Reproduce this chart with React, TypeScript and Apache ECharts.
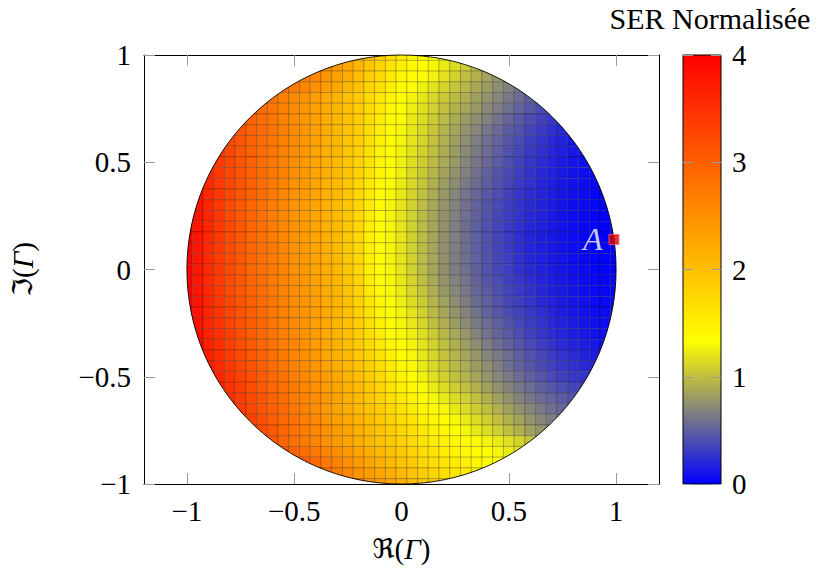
import React, { useEffect, useRef } from "react";
import * as echarts from "echarts";

// Cell centres of the sampling grid (Re and Im of Gamma)
const xCenters = [-1, -0.95, -0.9, -0.85, -0.8, -0.75, -0.7, -0.65, -0.6, -0.55, -0.5, -0.45, -0.4, -0.35, -0.3, -0.25, -0.2, -0.15, -0.1, -0.05, 0, 0.05, 0.1, 0.15, 0.2, 0.25, 0.3, 0.35, 0.4, 0.45, 0.5, 0.55, 0.6, 0.65, 0.7, 0.75, 0.8, 0.85, 0.9, 0.95, 1];
const yCenters = [1, 0.95, 0.9, 0.85, 0.8, 0.75, 0.7, 0.65, 0.6, 0.55, 0.5, 0.45, 0.4, 0.35, 0.3, 0.25, 0.2, 0.15, 0.1, 0.05, 0, -0.05, -0.1, -0.15, -0.2, -0.25, -0.3, -0.35, -0.4, -0.45, -0.5, -0.55, -0.6, -0.65, -0.7, -0.75, -0.8, -0.85, -0.9, -0.95, -1];
const cellSize = 0.05;

// Normalised SER x100, one row per yCenters entry, only the cells inside the unit disc
// (each row is centred on x = 0)
const serRows: number[][] = [
  [218, 200, 183, 167, 155, 144, 138, 133, 128],
  [265, 252, 240, 226, 210, 193, 177, 162, 150, 140, 135, 130, 123, 115, 107, 99, 92],
  [282, 270, 258, 245, 232, 218, 202, 186, 170, 155, 143, 136, 133, 126, 118, 109, 100, 92, 85, 79, 73],
  [285, 273, 261, 249, 237, 223, 210, 195, 180, 165, 150, 139, 132, 126, 119, 111, 103, 95, 88, 81, 74, 67, 60],
  [292, 280, 268, 256, 245, 234, 222, 211, 199, 187, 173, 158, 145, 136, 128, 120, 113, 105, 98, 91, 84, 77, 70, 63, 56, 49, 43],
  [300, 289, 278, 266, 254, 243, 232, 221, 210, 198, 186, 171, 155, 142, 133, 125, 117, 109, 101, 93, 86, 79, 72, 65, 58, 51, 45, 39, 34],
  [310, 299, 288, 277, 265, 254, 242, 231, 220, 209, 197, 185, 170, 152, 139, 131, 123, 115, 106, 97, 89, 81, 74, 67, 60, 53, 46, 40, 34, 29, 25],
  [322, 311, 300, 289, 278, 266, 255, 243, 232, 220, 209, 197, 185, 169, 150, 137, 129, 121, 113, 104, 94, 86, 77, 70, 62, 55, 48, 42, 36, 30, 25, 21, 17],
  [325, 312, 300, 289, 278, 266, 254, 242, 231, 219, 208, 196, 183, 167, 148, 136, 128, 120, 111, 102, 92, 83, 74, 66, 58, 51, 44, 38, 32, 26, 21, 17, 13],
  [340, 326, 313, 300, 288, 277, 265, 253, 241, 230, 218, 207, 195, 181, 165, 146, 135, 127, 118, 109, 100, 90, 81, 72, 64, 56, 49, 42, 36, 30, 25, 20, 16, 12, 9],
  [355, 340, 326, 312, 299, 287, 276, 264, 252, 240, 229, 217, 206, 194, 180, 163, 144, 134, 126, 117, 107, 98, 88, 79, 70, 62, 54, 47, 40, 34, 28, 23, 18, 14, 11, 8, 6],
  [357, 341, 326, 312, 299, 286, 275, 263, 251, 240, 228, 217, 205, 193, 178, 161, 142, 133, 125, 115, 105, 95, 85, 76, 67, 59, 51, 44, 38, 32, 26, 21, 17, 13, 10, 7, 5],
  [375, 358, 341, 326, 311, 298, 285, 274, 262, 250, 239, 228, 216, 205, 192, 177, 159, 140, 131, 123, 113, 103, 92, 82, 73, 64, 56, 49, 42, 36, 30, 25, 20, 16, 12, 9, 6, 4, 3],
  [378, 359, 341, 325, 310, 297, 284, 272, 260, 249, 238, 227, 216, 205, 192, 176, 157, 138, 129, 121, 111, 100, 89, 79, 70, 61, 53, 46, 40, 34, 28, 23, 19, 15, 11, 8, 5, 3, 2],
  [380, 360, 340, 323, 308, 294, 282, 270, 258, 247, 237, 227, 216, 205, 192, 175, 155, 136, 128, 120, 110, 98, 87, 77, 68, 59, 51, 44, 38, 32, 27, 22, 18, 14, 10, 7, 5, 3, 1],
  [382, 361, 341, 323, 308, 294, 282, 270, 258, 247, 237, 227, 216, 205, 192, 174, 153, 136, 127, 120, 109, 97, 86, 76, 67, 58, 50, 43, 37, 31, 26, 21, 17, 13, 9, 6, 4, 2, 1],
  [400, 380, 360, 341, 324, 308, 295, 283, 271, 259, 248, 238, 228, 217, 205, 192, 173, 151, 136, 127, 120, 109, 97, 86, 75, 66, 57, 49, 42, 36, 30, 25, 20, 16, 12, 9, 6, 3, 2, 1, 0],
  [400, 378, 358, 340, 323, 308, 295, 283, 271, 259, 248, 238, 228, 217, 205, 191, 173, 150, 136, 127, 120, 109, 97, 86, 75, 66, 57, 49, 42, 36, 30, 24, 19, 15, 12, 9, 6, 3, 1, 0, 0],
  [400, 377, 357, 339, 323, 308, 295, 283, 272, 260, 249, 239, 229, 218, 206, 191, 173, 149, 136, 127, 120, 109, 97, 86, 75, 66, 57, 49, 42, 36, 30, 24, 19, 15, 12, 9, 6, 3, 1, 0, 0],
  [400, 376, 356, 338, 322, 308, 295, 283, 272, 260, 250, 240, 230, 219, 207, 192, 173, 149, 136, 127, 120, 109, 97, 86, 75, 66, 58, 50, 43, 37, 31, 25, 20, 16, 13, 10, 7, 4, 2, 1, 0],
  [400, 375, 355, 338, 322, 308, 295, 283, 272, 261, 250, 240, 230, 220, 208, 193, 174, 150, 137, 128, 120, 109, 97, 86, 75, 66, 58, 50, 43, 37, 31, 26, 21, 17, 14, 11, 8, 5, 3, 2, 1],
  [400, 376, 356, 339, 323, 309, 296, 284, 273, 262, 251, 241, 231, 221, 209, 195, 176, 153, 138, 129, 121, 111, 99, 88, 77, 68, 60, 52, 45, 39, 33, 28, 23, 19, 15, 12, 9, 6, 4, 3, 2],
  [400, 377, 357, 340, 324, 310, 297, 285, 274, 263, 252, 242, 232, 222, 210, 196, 178, 156, 140, 130, 123, 113, 102, 91, 80, 71, 62, 54, 47, 41, 35, 30, 25, 20, 16, 13, 10, 7, 5, 4, 3],
  [400, 378, 359, 342, 326, 312, 299, 287, 276, 265, 254, 244, 234, 223, 212, 198, 180, 159, 143, 132, 125, 116, 105, 94, 84, 74, 65, 57, 50, 43, 37, 32, 27, 22, 18, 14, 11, 8, 6, 5, 4],
  [400, 380, 361, 344, 328, 314, 301, 289, 277, 266, 255, 245, 234, 223, 211, 198, 182, 163, 146, 134, 127, 119, 108, 97, 87, 77, 68, 60, 52, 45, 39, 34, 29, 24, 19, 15, 12, 9, 7, 6, 5],
  [382, 363, 346, 330, 316, 303, 290, 278, 267, 256, 245, 234, 223, 211, 198, 183, 166, 149, 136, 128, 122, 112, 100, 91, 81, 73, 64, 56, 49, 43, 37, 31, 26, 21, 17, 14, 11, 9, 7],
  [385, 365, 348, 333, 318, 305, 292, 280, 268, 257, 246, 235, 223, 211, 198, 184, 168, 152, 138, 130, 125, 116, 106, 96, 87, 78, 69, 60, 52, 46, 40, 34, 28, 23, 19, 15, 12, 10, 8],
  [387, 367, 350, 335, 320, 307, 294, 282, 270, 259, 248, 237, 225, 213, 200, 187, 172, 157, 143, 133, 127, 118, 109, 100, 91, 82, 74, 65, 57, 51, 44, 38, 32, 27, 22, 18, 15, 12, 10],
  [390, 370, 353, 338, 323, 310, 297, 285, 273, 262, 251, 240, 228, 216, 204, 191, 177, 162, 148, 136, 129, 120, 111, 102, 94, 86, 78, 70, 63, 56, 49, 43, 37, 31, 26, 22, 18, 15, 13],
  [374, 357, 342, 327, 314, 301, 289, 277, 266, 255, 244, 232, 220, 208, 196, 182, 167, 153, 140, 131, 122, 113, 105, 97, 90, 82, 74, 66, 58, 51, 45, 39, 34, 29, 25, 21, 18],
  [378, 361, 346, 331, 318, 305, 292, 280, 269, 258, 247, 236, 224, 212, 200, 186, 172, 158, 145, 135, 126, 117, 109, 101, 94, 86, 78, 70, 63, 56, 50, 44, 38, 33, 29, 26, 23],
  [365, 349, 334, 321, 308, 295, 283, 272, 261, 250, 239, 227, 215, 203, 190, 177, 163, 150, 140, 131, 123, 115, 107, 100, 92, 84, 76, 69, 62, 56, 50, 45, 40, 36, 33],
  [352, 337, 324, 311, 298, 286, 275, 264, 253, 242, 230, 218, 206, 194, 181, 168, 156, 146, 137, 129, 122, 115, 108, 100, 92, 84, 76, 68, 62, 56, 51, 47, 43],
  [356, 341, 327, 314, 301, 289, 277, 265, 253, 241, 229, 218, 207, 196, 185, 174, 163, 152, 143, 136, 129, 122, 115, 107, 100, 92, 84, 76, 70, 64, 58, 53, 49],
  [346, 332, 318, 305, 293, 282, 270, 258, 246, 235, 224, 213, 202, 191, 180, 169, 160, 151, 143, 136, 130, 123, 116, 108, 101, 93, 85, 77, 71, 65, 60],
  [335, 320, 307, 294, 282, 271, 260, 249, 238, 227, 217, 206, 196, 185, 175, 165, 156, 148, 141, 134, 128, 122, 115, 108, 100, 92, 84, 77, 70],
  [325, 310, 296, 283, 271, 260, 249, 238, 227, 217, 207, 198, 189, 180, 171, 162, 154, 147, 141, 136, 132, 128, 123, 117, 110, 102, 94],
  [312, 298, 285, 273, 261, 250, 239, 228, 218, 208, 198, 188, 178, 169, 160, 152, 146, 140, 136, 132, 128, 123, 117],
  [318, 304, 290, 277, 264, 252, 240, 228, 217, 207, 197, 187, 177, 168, 160, 153, 147, 142, 137, 133, 129],
  [295, 283, 271, 259, 248, 237, 226, 216, 206, 196, 186, 176, 168, 160, 153, 147, 142],
  [262, 250, 238, 227, 216, 206, 195, 185, 176],
];

const xTicks = [-1, -0.5, 0, 0.5, 1];
const colorbarTicks = [0, 1, 2, 3, 4];
const serRange = [0, 4];
const colormap = ["#0000ff", "#808080", "#ffff00", "#ffbf00", "#ff8000", "#ff4000", "#ff0000"];
const pointA = [0.99, 0.14];
const unitCircle = [0, 0, 1];

const FONT = "Liberation Serif, Times New Roman, serif";
const fmt = (v: number) => (v < 0 ? "\u2212" + String(Math.abs(v)) : String(v));

function buildCells() {
  const out: number[][] = [];
  serRows.forEach((row, j) => {
    const start = Math.round((xCenters.length - row.length) / 2);
    row.forEach((v, k) => {
      out.push([xCenters[start + k], yCenters[j], v / 100]);
    });
  });
  return out;
}

const tickStyle = { color: "#9a9a9a", width: 1 };
const frameLine = { show: true, onZero: false, lineStyle: { color: "#000", width: 1 } };

function nameRich(size: number) {
  return {
    r: { fontFamily: "DejaVu Serif, DejaVu Sans, serif", fontSize: size - 2, color: "#000" },
    p: { fontFamily: FONT, fontSize: size, color: "#000" },
    g: { fontFamily: FONT, fontSize: size, fontStyle: "italic", color: "#000" },
  };
}

function buildOption(): any {
  const half = cellSize / 2;
  return {
    animation: false,
    backgroundColor: "#ffffff",
    textStyle: { fontFamily: FONT },
    grid: [
      { left: 142, top: 55, width: 517, height: 429 },
      { left: 683, top: 55, width: 38, height: 429 },
    ],
    xAxis: [
      {
        gridIndex: 0, type: "value", min: -1.2, max: 1.2, position: "bottom",
        axisLine: frameLine,
        axisTick: { show: true, inside: true, length: 11, customValues: xTicks, lineStyle: tickStyle },
        axisLabel: { show: true, customValues: xTicks, formatter: fmt, margin: 12, fontSize: 29, fontFamily: FONT, color: "#000" },
        splitLine: { show: false },
        name: "{r|\u211C}{p|(}{g|\u0393}{p|)}",
        nameLocation: "middle", nameGap: 50,
        nameTextStyle: { rich: nameRich(29) },
      },
      {
        gridIndex: 0, type: "value", min: -1.2, max: 1.2, position: "top",
        axisLine: frameLine,
        axisTick: { show: true, inside: true, length: 11, customValues: xTicks, lineStyle: tickStyle },
        axisLabel: { show: false },
        splitLine: { show: false },
      },
      { gridIndex: 1, type: "value", min: 0, max: 1, show: false },
    ],
    yAxis: [
      {
        gridIndex: 0, type: "value", min: -1, max: 1, interval: 0.5, position: "left",
        axisLine: frameLine,
        axisTick: { show: true, inside: true, length: 11, lineStyle: tickStyle },
        axisLabel: { show: true, formatter: fmt, margin: 13, fontSize: 29, fontFamily: FONT, color: "#000" },
        splitLine: { show: false },
        name: "{r|\u2111}{p|(}{g|\u0393}{p|)}",
        nameLocation: "middle", nameGap: 107, nameRotate: 90,
        nameTextStyle: { rich: nameRich(29) },
      },
      {
        gridIndex: 0, type: "value", min: -1, max: 1, interval: 0.5, position: "right",
        axisLine: frameLine,
        axisTick: { show: true, inside: true, length: 11, lineStyle: tickStyle },
        axisLabel: { show: false },
        splitLine: { show: false },
      },
      {
        gridIndex: 1, type: "value", min: serRange[0], max: serRange[1], interval: 1, position: "right", z: 10,
        axisLine: { show: false, onZero: false },
        axisTick: { show: true, inside: true, length: 10, customValues: colorbarTicks, lineStyle: tickStyle },
        axisLabel: { show: true, customValues: colorbarTicks, margin: 11, fontSize: 29, fontFamily: FONT, color: "#000" },
        splitLine: { show: false },
      },
      {
        gridIndex: 1, type: "value", min: serRange[0], max: serRange[1], interval: 1, position: "left", z: 10,
        axisLine: { show: false, onZero: false },
        axisTick: { show: true, inside: true, length: 10, customValues: colorbarTicks, lineStyle: tickStyle },
        axisLabel: { show: false },
        splitLine: { show: false },
      },
    ],
    visualMap: {
      type: "continuous", show: false, min: serRange[0], max: serRange[1], dimension: 2, seriesIndex: 0,
      inRange: { color: colormap },
    },
    graphic: [
      {
        type: "text", x: 710, y: 3, z: 10,
        style: { text: "SER Normalisée", align: "center", verticalAlign: "top", fontSize: 30, fontFamily: FONT, fill: "#000" },
      },
    ],
    series: [
      {
        type: "custom", xAxisIndex: 0, yAxisIndex: 0, silent: true, z: 2,
        data: buildCells(),
        encode: { x: 0, y: 1 },
        renderItem: (_params: any, api: any) => {
          const x = api.value(0), y = api.value(1);
          const tl = api.coord([x - half, y + half]);
          const br = api.coord([x + half, y - half]);
          const el: any = {
            type: "rect",
            shape: { x: tl[0], y: tl[1], width: br[0] - tl[0], height: br[1] - tl[1] },
            style: { fill: api.visual("color"), stroke: "rgba(0,0,0,0.22)", lineWidth: 1 },
          };
          if ((Math.abs(x) + half) ** 2 + (Math.abs(y) + half) ** 2 > 1) {
            const c = api.coord([0, 0]);
            const s = api.size([1, 1]);
            el.clipPath = { type: "ellipse", shape: { cx: c[0], cy: c[1], rx: s[0], ry: s[1] } };
          }
          return el;
        },
      },
      {
        type: "custom", xAxisIndex: 0, yAxisIndex: 0, silent: true, z: 3,
        data: [unitCircle],
        encode: { x: 0, y: 1 },
        renderItem: (_params: any, api: any) => {
          const c = api.coord([api.value(0), api.value(1)]);
          const s = api.size([api.value(2), api.value(2)]);
          return {
            type: "ellipse",
            shape: { cx: c[0], cy: c[1], rx: s[0], ry: s[1] },
            style: { fill: "none", stroke: "#000", lineWidth: 0.9 },
          };
        },
      },
      {
        type: "custom", xAxisIndex: 2, yAxisIndex: 2, silent: true, z: 2,
        data: [[0, serRange[0], 1, serRange[1]]],
        encode: { x: [0, 2], y: [1, 3] },
        renderItem: (_params: any, api: any) => {
          const p0 = api.coord([api.value(0), api.value(1)]);
          const p1 = api.coord([api.value(2), api.value(3)]);
          const stops = colormap.map((c, i) => ({ offset: i / (colormap.length - 1), color: c }));
          return {
            type: "rect",
            shape: { x: p0[0], y: p1[1], width: p1[0] - p0[0], height: p0[1] - p1[1] },
            style: { fill: new echarts.graphic.LinearGradient(0, 1, 0, 0, stops), stroke: "#000", lineWidth: 1 },
          };
        },
      },
      {
        type: "scatter", xAxisIndex: 0, yAxisIndex: 0, z: 10, silent: true,
        data: [pointA],
        symbol: "rect", symbolSize: 10,
        itemStyle: { color: "#d80000", borderColor: "#ff6060", borderWidth: 1 },
        label: {
          show: true, position: "left", distance: 6, formatter: "A",
          color: "#ffffff", fontFamily: FONT, fontStyle: "italic", fontSize: 32,
        },
      },
    ],
  };
}

export default function App() {
  const ref = useRef<HTMLDivElement>(null);
  useEffect(() => {
    if (!ref.current) return;
    const chart = echarts.init(ref.current, undefined, { renderer: "svg" });
    chart.setOption(buildOption());
    return () => chart.dispose();
  }, []);
  return <div ref={ref} style={{ position: "absolute", left: 0, top: 0, width: 816, height: 577 }} />;
}
